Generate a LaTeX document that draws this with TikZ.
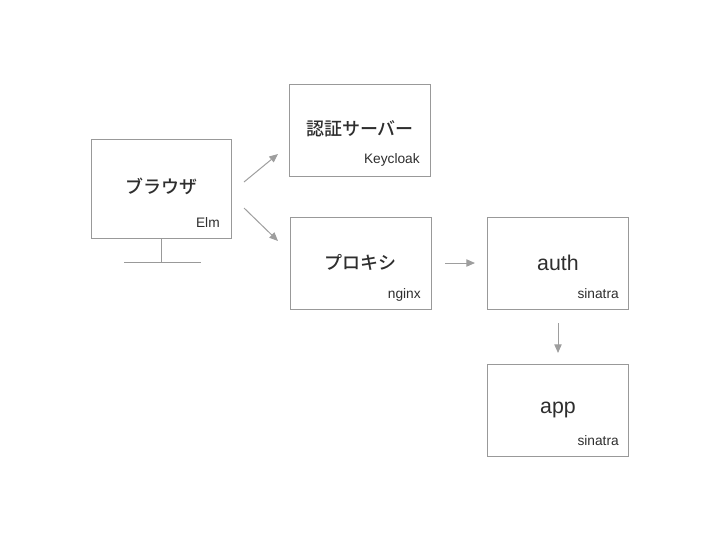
\documentclass[tikz,border=0pt]{standalone}
\usepackage{fontspec}
\setmainfont{Liberation Sans}
\newfontfamily\jp{Noto Sans CJK JP}[UprightFont=* Medium, BoldFont=* Bold]
\usetikzlibrary{arrows.meta}
\definecolor{boxc}{HTML}{999999}
\definecolor{arrc}{HTML}{9E9E9E}
\definecolor{txt}{HTML}{2E2E2E}
\tikzset{
  box/.style={draw=boxc, line width=0.75pt, fill=white},
  mainjp/.style={text=txt, font=\jp\fontsize{13.5}{16}\selectfont, inner sep=0pt},
  mainen/.style={text=txt, font=\fontsize{16}{19}\selectfont, inner sep=0pt},
  sub/.style={text=txt, font=\fontsize{10.3}{12}\selectfont, inner sep=0pt, anchor=east},
  arr/.style={draw=arrc, line width=0.75pt, -{Triangle[length=6.5pt,width=5.5pt]}},
}
\begin{document}
\begin{tikzpicture}[x=0.75pt,y=-0.75pt]
\useasboundingbox (0,0) rectangle (720,540);
% browser
\draw[box] (91,139) rectangle (231,238);
\node[mainjp] (br) at (161,186) {ブラウザ};
\node[sub] (elm) at (220,223) {Elm};
\coordinate (st1) at (161,238);
\coordinate (st2) at (161,262);
\coordinate (bl) at (124,262);
\coordinate (brr) at (201,262);
\draw[boxc, line width=0.75pt] (st1) -- (st2);
\draw[boxc, line width=0.75pt] (bl) -- (brr);
% keycloak
\draw[box] (289,84) rectangle (430,176);
\node[mainjp] (kc) at (360,129) {認証サーバー};
\node[sub] (kcs) at (420,160) {Keycloak};
% proxy
\draw[box] (290,217) rectangle (431,309);
\node[mainjp] (px) at (360,262) {プロキシ};
\node[sub] (pxs) at (421,295) {nginx};
% auth
\draw[box] (487,217) rectangle (628,309);
\node[mainen] (au) at (558,263) {auth};
\node[sub] (aus) at (619,294) {sinatra};
% app
\draw[box] (487,364) rectangle (628,456);
\node[mainen] (ap) at (558,410) {app};
\node[sub] (aps) at (619,441) {sinatra};
% arrows
\coordinate (a1s) at (244,182); \coordinate (a1e) at (278,154);
\coordinate (a2s) at (244,208); \coordinate (a2e) at (278,241);
\coordinate (a3s) at (445,263); \coordinate (a3e) at (475,263);
\coordinate (a4s) at (558,323); \coordinate (a4e) at (558,353);
\draw[arr] (a1s) -- (a1e);
\draw[arr] (a2s) -- (a2e);
\draw[arr] (a3s) -- (a3e);
\draw[arr] (a4s) -- (a4e);
\end{tikzpicture}
\end{document}
